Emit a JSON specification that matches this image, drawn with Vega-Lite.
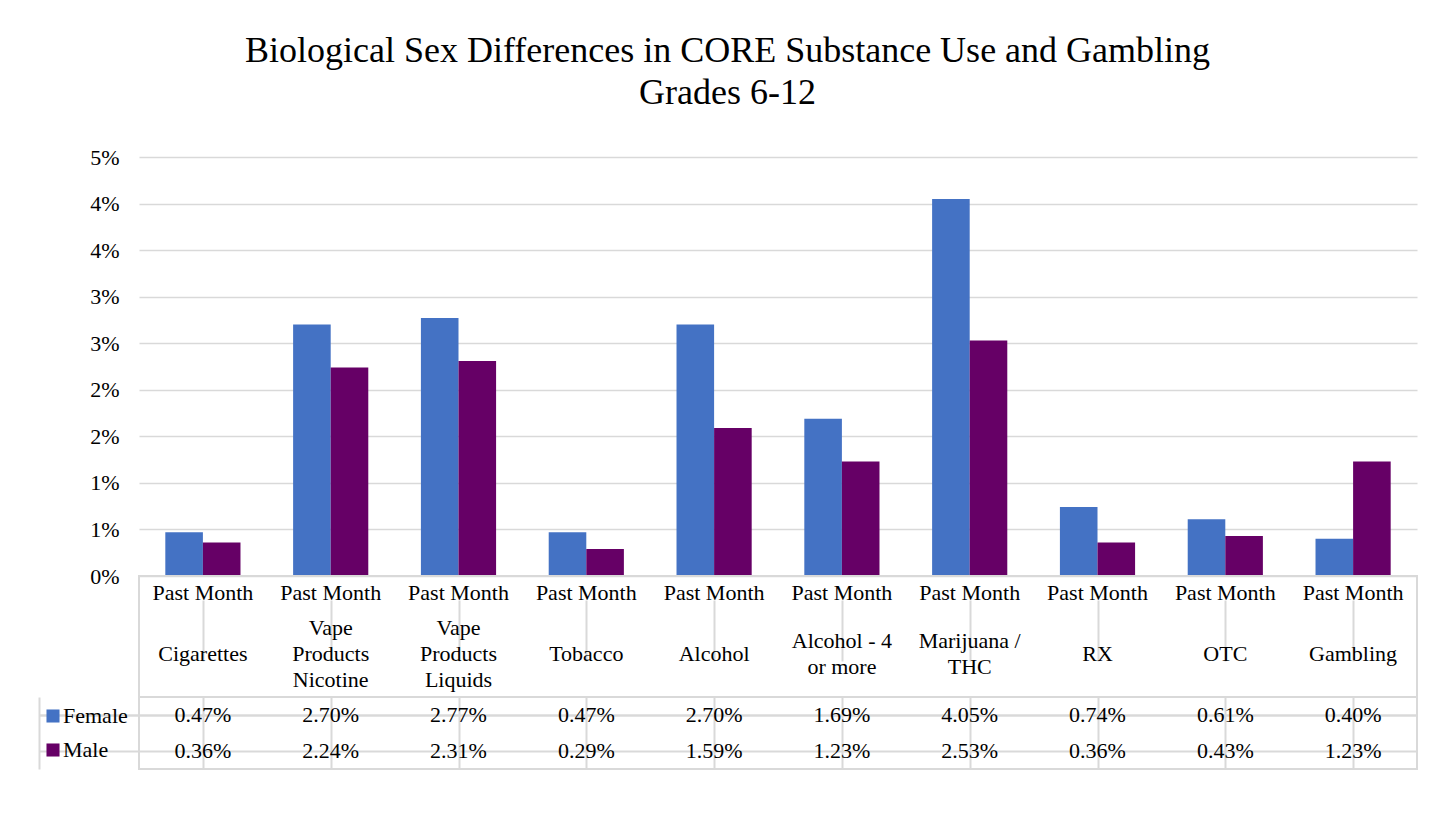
{
  "$schema": "https://vega.github.io/schema/vega-lite/v6.json",
  "padding": {"left": 37, "top": 33, "right": 37, "bottom": 10},
  "background": "white",
  "title": {
    "text": ["Biological Sex Differences in CORE Substance Use and Gambling", "Grades 6-12"],
    "font": "Liberation Serif", "fontSize": 36, "fontWeight": "normal", "color": "black",
    "lineHeight": 42, "anchor": "middle", "offset": 34
  },
  "config": {"font": "Liberation Serif", "title": {"font": "Liberation Serif"}, "view": {"stroke": null}},
  "bounds": "flush",
  "spacing": 0,
  "resolve": {"scale": {"color": "independent"}, "legend": {"color": "independent"}},
  "datasets": {
    "main": [
      {"item": "Cigarettes", "period": "Past Month", "sex": "Female", "value": 0.0047},
      {"item": "Cigarettes", "period": "Past Month", "sex": "Male", "value": 0.0036},
      {"item": "Vape\nProducts\nNicotine", "period": "Past Month", "sex": "Female", "value": 0.0270},
      {"item": "Vape\nProducts\nNicotine", "period": "Past Month", "sex": "Male", "value": 0.0224},
      {"item": "Vape\nProducts\nLiquids", "period": "Past Month", "sex": "Female", "value": 0.0277},
      {"item": "Vape\nProducts\nLiquids", "period": "Past Month", "sex": "Male", "value": 0.0231},
      {"item": "Tobacco", "period": "Past Month", "sex": "Female", "value": 0.0047},
      {"item": "Tobacco", "period": "Past Month", "sex": "Male", "value": 0.0029},
      {"item": "Alcohol", "period": "Past Month", "sex": "Female", "value": 0.0270},
      {"item": "Alcohol", "period": "Past Month", "sex": "Male", "value": 0.0159},
      {"item": "Alcohol - 4\nor more", "period": "Past Month", "sex": "Female", "value": 0.0169},
      {"item": "Alcohol - 4\nor more", "period": "Past Month", "sex": "Male", "value": 0.0123},
      {"item": "Marijuana /\nTHC", "period": "Past Month", "sex": "Female", "value": 0.0405},
      {"item": "Marijuana /\nTHC", "period": "Past Month", "sex": "Male", "value": 0.0253},
      {"item": "RX", "period": "Past Month", "sex": "Female", "value": 0.0074},
      {"item": "RX", "period": "Past Month", "sex": "Male", "value": 0.0036},
      {"item": "OTC", "period": "Past Month", "sex": "Female", "value": 0.0061},
      {"item": "OTC", "period": "Past Month", "sex": "Male", "value": 0.0043},
      {"item": "Gambling", "period": "Past Month", "sex": "Female", "value": 0.0040},
      {"item": "Gambling", "period": "Past Month", "sex": "Male", "value": 0.0123}
    ]
  },
  "vconcat": [
    {
      "width": 1278, "height": 419,
      "data": {"name": "main"},
      "mark": {"type": "bar"},
      "encoding": {
        "x": {"field": "item", "type": "nominal", "sort": null, "scale": {"paddingInner": 0, "paddingOuter": 0}, "axis": null},
        "xOffset": {"field": "sex", "type": "nominal", "sort": ["Female", "Male"], "scale": {"paddingInner": 0, "paddingOuter": 0.7}},
        "y": {
          "field": "value", "type": "quantitative",
          "scale": {"domain": [0, 0.045], "nice": false, "zero": true},
          "axis": {
            "values": [0, 0.005, 0.01, 0.015, 0.02, 0.025, 0.03, 0.035, 0.04, 0.045],
            "format": ".0%", "grid": true, "gridColor": "#d9d9d9", "gridWidth": 1.5,
            "domain": false, "ticks": false, "labelPadding": 20, "labelFontSize": 22,
            "labelColor": "black", "title": null
          }
        },
        "color": {"field": "sex", "type": "nominal", "scale": {"domain": ["Female", "Male"], "range": ["#4472C4", "#660066"]}, "legend": null}
      }
    },
    {
      "width": 1278, "height": 121,
      "data": {"name": "main"},
      "transform": [{"filter": "datum.sex == 'Female'"}],
      "view": {"stroke": "#d9d9d9", "strokeWidth": 2},
      "encoding": {
        "x": {"field": "item", "type": "nominal", "sort": null, "scale": {"paddingInner": 0, "paddingOuter": 0},
          "axis": {"orient": "top", "bandPosition": 0, "grid": true, "gridColor": "#d9d9d9", "gridWidth": 2, "labels": false, "ticks": false, "domain": false, "title": null}}
      },
      "layer": [
        {
          "mark": {"type": "text", "fontSize": 22, "baseline": "alphabetic", "color": "black"},
          "encoding": {
            "text": {"field": "period", "type": "nominal"},
            "y": {"datum": "period", "type": "ordinal", "scale": {"type": "point", "domain": ["period", "name"], "range": [24, 85], "padding": 0}, "axis": null}
          }
        },
        {
          "transform": [{"filter": "length(split(datum.item, '\\n')) == 1"}],
          "mark": {"type": "text", "fontSize": 22, "baseline": "alphabetic", "color": "black"},
          "encoding": {
            "text": {"field": "item", "type": "nominal"},
            "y": {"datum": "name", "type": "ordinal"}
          }
        },
        {
          "transform": [{"filter": "length(split(datum.item, '\\n')) == 2"}],
          "mark": {"type": "text", "fontSize": 22, "baseline": "alphabetic", "color": "black", "lineBreak": "\n", "lineHeight": 26, "dy": -13},
          "encoding": {
            "text": {"field": "item", "type": "nominal"},
            "y": {"datum": "name", "type": "ordinal"}
          }
        },
        {
          "transform": [{"filter": "length(split(datum.item, '\\n')) == 3"}],
          "mark": {"type": "text", "fontSize": 22, "baseline": "alphabetic", "color": "black", "lineBreak": "\n", "lineHeight": 26, "dy": -26},
          "encoding": {
            "text": {"field": "item", "type": "nominal"},
            "y": {"datum": "name", "type": "ordinal"}
          }
        }
      ]
    },
    {
      "width": 1278, "height": 72,
      "data": {"name": "main"},
      "view": {"stroke": "#d9d9d9", "strokeWidth": 2},
      "encoding": {
        "x": {"field": "item", "type": "nominal", "sort": null, "scale": {"paddingInner": 0, "paddingOuter": 0},
          "axis": {"orient": "top", "bandPosition": 0, "grid": true, "gridColor": "#d9d9d9", "gridWidth": 2, "labels": false, "ticks": false, "domain": false, "title": null}},
        "y": {"field": "sex", "type": "nominal", "sort": ["Female", "Male"], "scale": {"paddingInner": 0, "paddingOuter": 0},
          "axis": {"bandPosition": 1, "tickExtra": true, "offset": 100, "tickSize": -100, "tickColor": "#d9d9d9", "tickWidth": 2, "labels": false, "domain": true, "domainColor": "#d9d9d9", "domainWidth": 2, "grid": true, "gridColor": "#d9d9d9", "gridWidth": 2, "title": null}}
      },
      "layer": [
        {
          "mark": {"type": "text", "fontSize": 22, "baseline": "middle", "color": "black"},
          "encoding": {"text": {"field": "value", "type": "quantitative", "format": ".2%"}}
        },
        {
          "mark": {"type": "square", "opacity": 0},
          "encoding": {
            "color": {"field": "sex", "type": "nominal", "scale": {"domain": ["Female", "Male"], "range": ["#4472C4", "#660066"]},
              "legend": {"orient": "none", "legendX": -97, "legendY": 8, "title": null, "symbolType": "square", "symbolSize": 170, "symbolOpacity": 1, "symbolStrokeWidth": 0, "labelFontSize": 22, "labelColor": "black", "rowPadding": 12, "padding": 0, "labelOffset": -1}}
          }
        }
      ]
    }
  ]
}
